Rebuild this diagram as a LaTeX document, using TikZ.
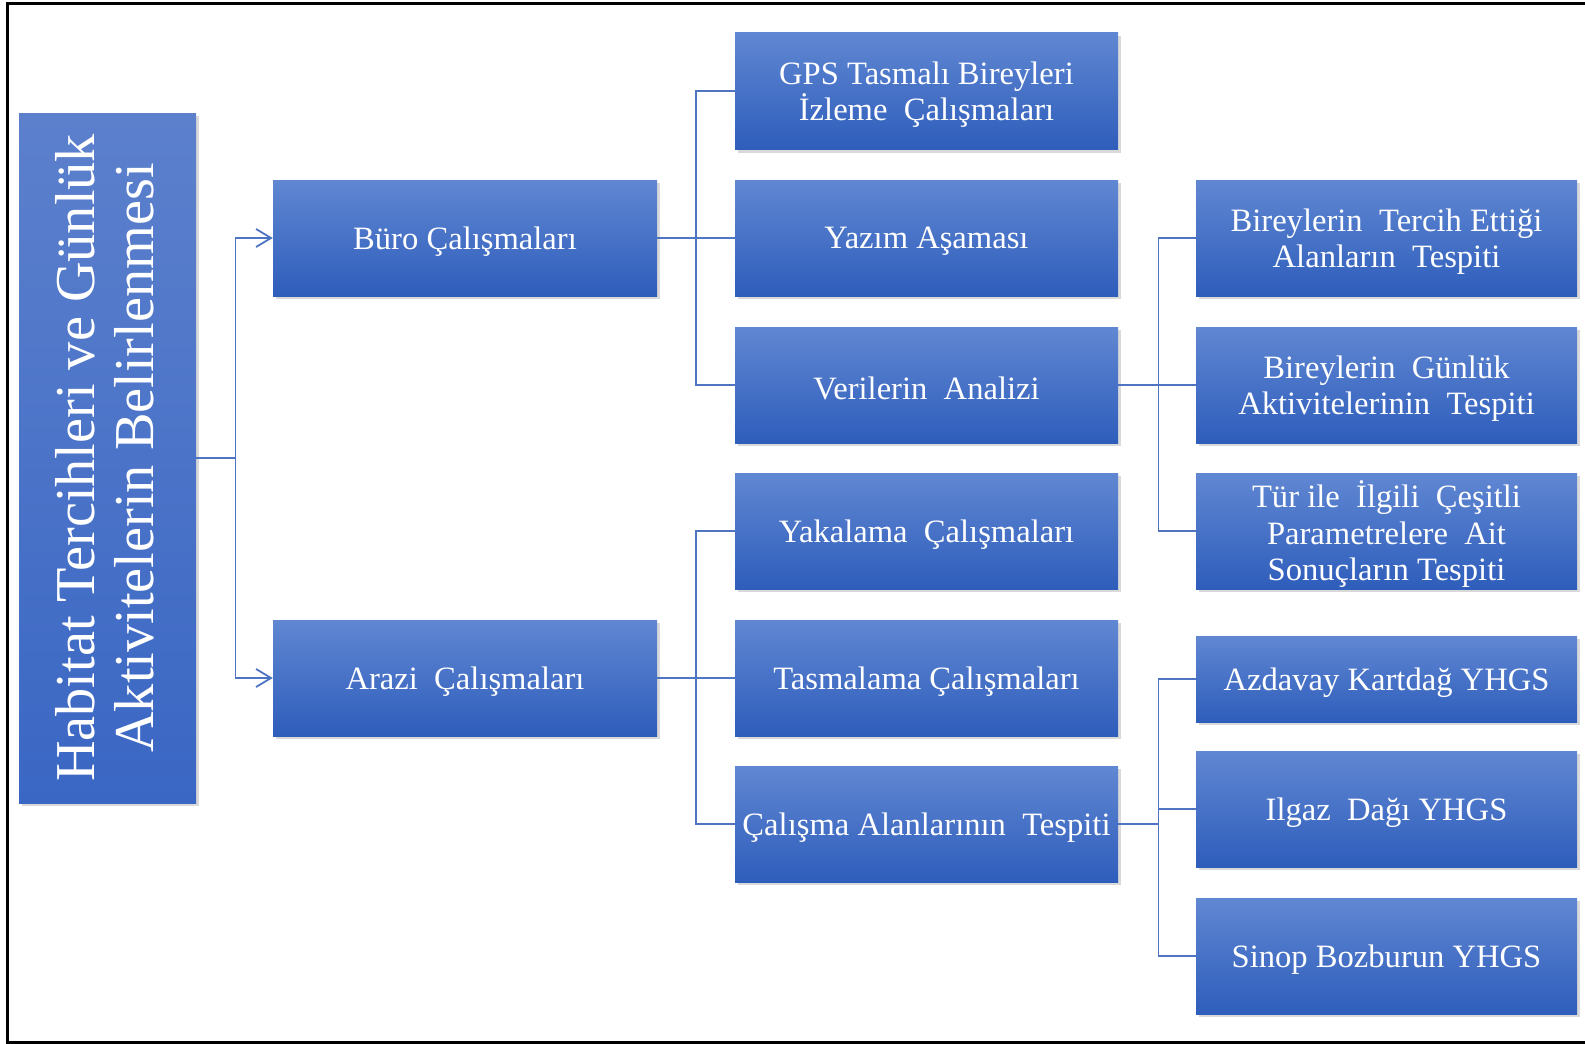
\documentclass[tikz,border=0pt]{standalone}
\usepackage{fontspec}
\setmainfont{Liberation Serif}
\usetikzlibrary{arrows.meta,shadows}
\definecolor{boxtop}{RGB}{96,135,210}
\definecolor{boxbot}{RGB}{46,93,187}
\definecolor{maintop}{RGB}{92,128,204}
\definecolor{mainbot}{RGB}{58,103,196}
\definecolor{linec}{RGB}{78,116,194}
\begin{document}
\begin{tikzpicture}[x=1pt,y=-1pt,
  boxtext/.style={text=white, align=center, inner sep=0pt, yshift=-3.5pt,
    font=\fontsize{32.6}{36.5}\selectfont},
  box/.style={rectangle, top color=boxtop, bottom color=boxbot, draw=none,
    inner sep=0pt,
    drop shadow={shadow xshift=3pt, shadow yshift=-3pt, opacity=0.3}},
  btext/.style={label={[boxtext]center:{#1}}},
  midbox/.style={box, minimum width=383pt, minimum height=116pt},
  rbox/.style={box, minimum width=381pt, minimum height=116pt},
  conn/.style={draw=linec, line width=1.8pt},
  arr/.style={conn, -{Straight Barb[length=15pt, width=18pt, line width=1.8pt]}}
]
\useasboundingbox (0,0) rectangle (1585,1044);
% frame
\draw[line width=3.3pt] (1590,3.3) -- (7.5,3.3) -- (7.5,1042.4) -- (1590,1042.4);

% main box
\node[box, top color=maintop, bottom color=mainbot, minimum width=177pt, minimum height=690pt] (main) at (107.5,458) {};
\node[rotate=90, text=white, align=center, inner sep=0pt, font=\fontsize{56.3}{59}\selectfont] (maintext) at (105,458)
  {Habitat Tercihleri ve Günlük\\Aktivitelerin Belirlenmesi};

% level 1
\node[box, minimum width=384pt, minimum height=116pt, btext={Büro Çalışmaları}] (buro) at (465,238) {};
\node[box, minimum width=384pt, minimum height=116pt, btext={Arazi\ \ Çalışmaları}] (arazi) at (465,678) {};

% level 2
\node[midbox, minimum height=117pt, btext={GPS Tasmalı Bireyleri\\İzleme\ \ Çalışmaları}] (gps) at (926.5,91) {};
\node[midbox, btext={Yazım Aşaması}] (yazim) at (926.5,238) {};
\node[midbox, btext={Verilerin\ \ Analizi}] (veri) at (926.5,385) {};
\node[midbox, btext={Yakalama\ \ Çalışmaları}] (yak) at (926.5,531) {};
\node[midbox, btext={Tasmalama Çalışmaları}] (tas) at (926.5,678) {};
\node[midbox, btext={Çalışma Alanlarının\ \ Tespiti}] (cal) at (926.5,824) {};

% level 3
\node[rbox, btext={Bireylerin\ \ Tercih Ettiği\\Alanların\ \ Tespiti}] (r1) at (1386.5,238) {};
\node[rbox, btext={Bireylerin\ \ Günlük\\Aktivitelerinin\ \ Tespiti}] (r2) at (1386.5,385) {};
\node[rbox, btext={Tür ile\ \ İlgili\ \ Çeşitli\\Parametrelere\ \ Ait\\Sonuçların Tespiti}] (r3) at (1386.5,531) {};
\node[rbox, minimum height=86pt, btext={Azdavay Kartdağ YHGS}] (r4) at (1386.5,679) {};
\node[rbox, btext={Ilgaz\ \ Dağı YHGS}] (r5) at (1386.5,809) {};
\node[rbox, btext={Sinop Bozburun YHGS}] (r6) at (1386.5,956) {};

% junctions
\coordinate (j0) at (235.5,458);
\coordinate (j1) at (696,238);
\coordinate (j2) at (696,678);
\coordinate (j3) at (1158.5,385);
\coordinate (j4) at (1158.5,824);

% connectors
\draw[conn] (main.east |- j0) -- (j0);
\draw[arr] (j0) |- (buro.west);
\draw[arr] (j0) |- (arazi.west);

\draw[conn, line width=2.6pt] (buro.east) -- (j1);
\draw[conn] (j1) |- (gps.west);
\draw[conn] (j1) -- (yazim.west);
\draw[conn] (j1) |- (veri.west);

\draw[conn] (arazi.east) -- (j2);
\draw[conn] (j2) |- (yak.west);
\draw[conn] (j2) -- (tas.west);
\draw[conn] (j2) |- (cal.west);

\draw[conn] (veri.east) -- (j3);
\draw[conn] (j3) |- (r1.west);
\draw[conn] (j3) -- (r2.west);
\draw[conn] (j3) |- (r3.west);

\draw[conn] (cal.east) -- (j4);
\draw[conn] (j4) |- (r4.west);
\draw[conn] (j4) |- (r5.west);
\draw[conn] (j4) |- (r6.west);
\end{tikzpicture}
\end{document}
